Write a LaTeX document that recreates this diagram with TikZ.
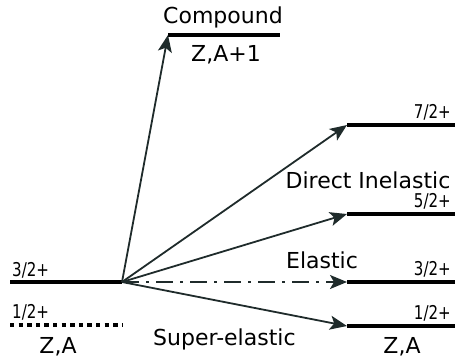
\documentclass[tikz,border=0pt]{standalone}
\usepackage{fontspec}
\setmainfont{DejaVu Sans}
\newfontfamily\condfont[FakeStretch=0.88]{DejaVu Sans Condensed}
\usetikzlibrary{arrows.meta}

\begin{document}
\begin{tikzpicture}[x=1pt, y=-1pt, every node/.style={inner sep=0pt},
  niveau/.style={line width=4pt, black},
  trans/.style={line width=1.8pt, draw=arrowgrey, -{Stealth[length=17pt, width=14pt, inset=4pt]}},
  spin/.style={font=\condfont\fontsize{19}{22}\selectfont},
  kern/.style={font=\fontsize{22}{26}\selectfont, anchor=base}]

  \definecolor{arrowgrey}{HTML}{1F2B2B}

  % --- Parameter ---
  \def\xleft{10}    % linkes Niveau, Anfang
  \def\xorig{122}   % linkes Niveau, Ende = Ursprung der Pfeile
  \def\xright{347}  % rechte Niveaus, Anfang
  \def\xend{455}    % rechte Niveaus, Ende

  \useasboundingbox (0,0) rectangle (455,360);

  % --- Anfangskern ---
  \coordinate (L32a) at (\xleft,282);
  \coordinate (O)    at (\xorig,282);
  \coordinate (L12a) at (\xleft,325);
  \coordinate (L12b) at (\xorig,325);
  \draw[niveau] (L32a) -- (O);
  \draw[niveau, dash pattern=on 4.3pt off 4.3pt] (L12a) -- (L12b);
  \node[spin, anchor=base west] (s32l) at (12,276) {3/2+};
  \node[spin, anchor=base west] (s12l) at (12,318) {1/2+};
  \node[kern] (ZAl) at (58,353) {Z,A};

  % --- Compoundkern ---
  \coordinate (C1) at (168,35);
  \coordinate (C2) at (280,35);
  \draw[niveau] (C1) -- (C2);
  \node[kern] (comp) at (223,23) {Compound};
  \node[kern] (ZA1)  at (226,61) {Z,A+1};

  % --- Endkern ---
  \foreach \nm/\y/\lab in {R72/125/7\slash 2+, R52/214/5\slash 2+, R32/282/3\slash 2+, R12/326/1\slash 2+} {
    \coordinate (\nm) at (\xright,\y);
    \coordinate (\nm e) at (\xend,\y);
    \draw[niveau] (\nm) -- (\nm e);
    \node[spin, anchor=base east] (\nm lab) at (451,\y-7) {\lab};
  }
  \node[kern] (ZAr) at (402,353) {Z,A};

  % --- Übergänge ---
  \draw[trans] (O) -- (C1);
  \draw[trans] (O) -- (R72);
  \draw[trans] (O) -- (R52);
  \draw[trans] (O) -- (R12);
  \draw[trans, dash pattern=on 17pt off 7pt on 3pt off 7pt] (O) -- (R32);

  % --- Beschriftungen ---
  \node[kern] (dir)   at (368,188) {Direct Inelastic};
  \node[kern] (ela)   at (322,268) {Elastic};
  \node[kern, anchor=base west] (sup) at (153,345) {Super-elastic};

\end{tikzpicture}
\end{document}
